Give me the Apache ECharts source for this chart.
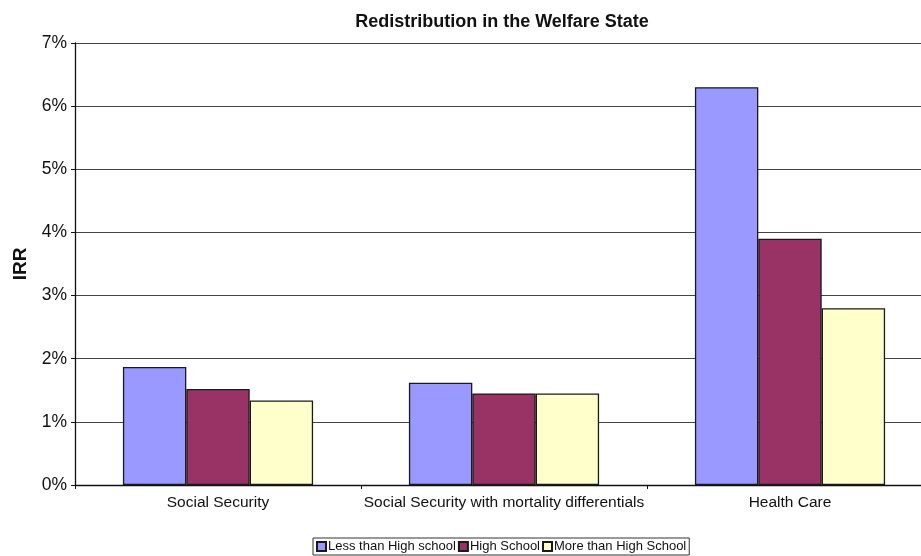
<!DOCTYPE html>
<html>
<head>
<meta charset="utf-8">
<script src="https://cdn.jsdelivr.net/npm/echarts@6/dist/echarts.min.js"></script>
<style>
  html, body { margin: 0; padding: 0; background: #fff; overflow: hidden; }
  #wrap { width: 921px; height: 556px; overflow: hidden; }
  #chart { width: 934px; height: 556px; }
</style>
</head>
<body>
<div id="wrap"><div id="chart"></div></div>
<script>
// Internal rates of return (%) by program and education group
const categories = ['Social Security', 'Social Security with mortality differentials', 'Health Care'];
const lessThanHighSchool = [1.87, 1.62, 6.3];
const highSchool = [1.52, 1.45, 3.9];
const moreThanHighSchool = [1.34, 1.45, 2.8];
const seriesNames = ['Less than High school', 'High School', 'More than High School'];
const yTicks = [0, 1, 2, 3, 4, 5, 6, 7];

const colors = ['#9999FF', '#993366', '#FFFFCC'];
const font = 'Liberation Sans, Arial, sans-serif';

const chart = echarts.init(document.getElementById('chart'));

function barSeries(name, data, color) {
  return {
    name: name,
    type: 'bar',
    data: data,
    barGap: '0%',
    barCategoryGap: '33.5%',
    itemStyle: { color: color, borderColor: '#1a1a1a', borderWidth: 1.3 },
    emphasis: { disabled: true }
  };
}

chart.setOption({
  animation: false,
  title: {
    text: 'Redistribution in the Welfare State',
    left: 497,
    textAlign: 'center',
    top: 8,
    textStyle: { fontFamily: font, fontSize: 18, fontWeight: 'bold', color: '#111' }
  },
  legend: {
    bottom: 1,
    left: 313,
    itemWidth: 9,
    itemHeight: 9,
    itemGap: 2,
    padding: [2, 3, 2, 3],
    borderColor: '#333',
    borderWidth: 1,
    borderRadius: 0,
    icon: 'rect',
    textStyle: { fontFamily: font, fontSize: 13, color: '#111', padding: [0, 0, 0, -3] },
    data: seriesNames
  },
  grid: { left: 75, top: 43, right: 1, bottom: 71, containLabel: false },
  xAxis: {
    type: 'category',
    data: categories,
    axisLine: { lineStyle: { color: '#111', width: 1.3 } },
    axisTick: { show: true, length: 4, alignWithLabel: false, lineStyle: { color: '#111' } },
    axisLabel: { interval: 0, fontFamily: font, fontSize: 15.5, color: '#111', margin: 10 }
  },
  yAxis: {
    type: 'value',
    min: yTicks[0],
    max: yTicks[yTicks.length - 1],
    interval: 1,
    name: 'IRR',
    nameLocation: 'middle',
    nameGap: 45,
    nameRotate: 90,
    nameTextStyle: { fontFamily: font, fontSize: 19, fontWeight: 'bold', color: '#111' },
    axisLine: { show: true, lineStyle: { color: '#111', width: 1.3 } },
    axisTick: { show: true, length: 4, inside: false, lineStyle: { color: '#111' } },
    splitLine: { lineStyle: { color: '#444', width: 1.2 } },
    axisLabel: {
      fontFamily: font, fontSize: 17.5, color: '#111', margin: 8,
      formatter: v => v + '%'
    }
  },
  series: [
    barSeries(seriesNames[0], lessThanHighSchool, colors[0]),
    barSeries(seriesNames[1], highSchool, colors[1]),
    barSeries(seriesNames[2], moreThanHighSchool, colors[2])
  ]
});
</script>
</body>
</html>
